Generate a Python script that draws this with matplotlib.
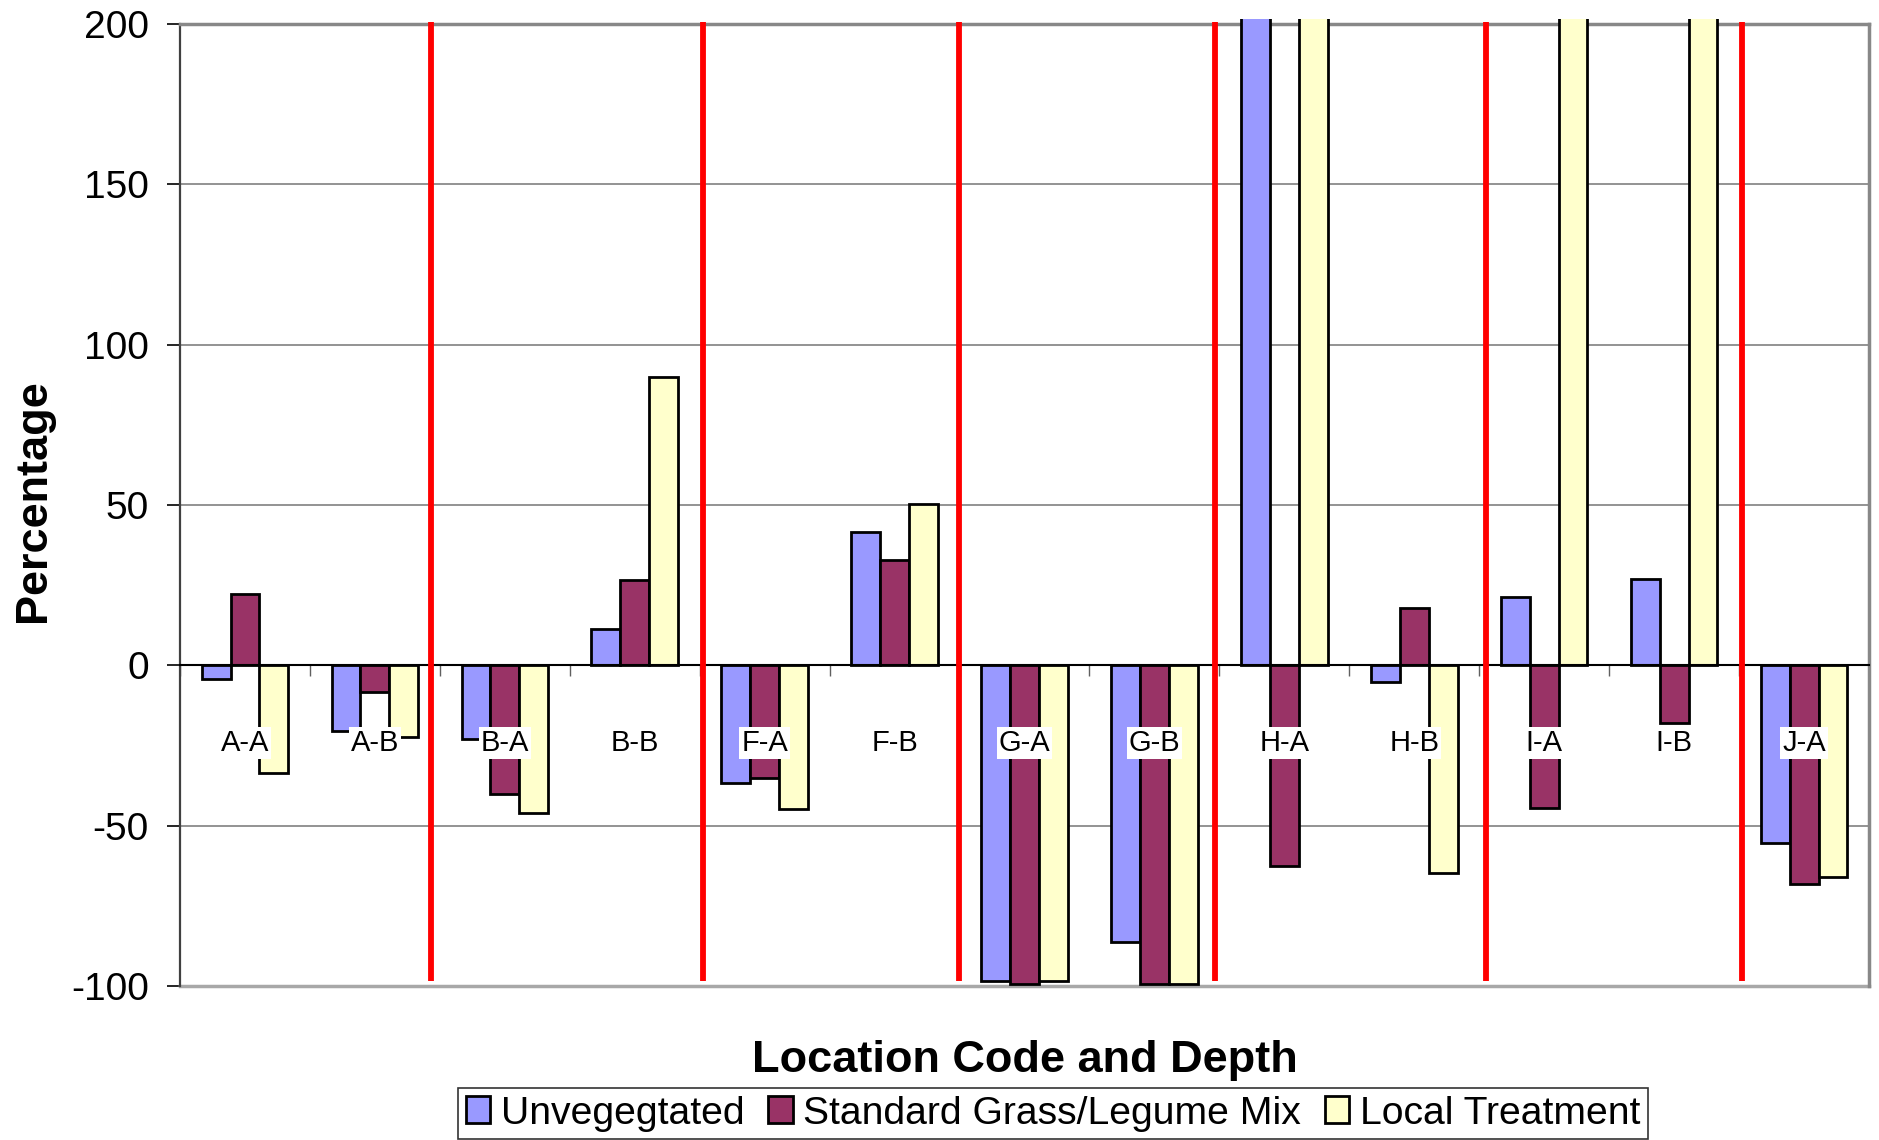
import numpy as np
import matplotlib
matplotlib.use('Agg')
import matplotlib.pyplot as plt
from matplotlib.patches import Rectangle

# ---------------- data ----------------
categories = ['A-A', 'A-B', 'B-A', 'B-B', 'F-A', 'F-B', 'G-A', 'G-B',
              'H-A', 'H-B', 'I-A', 'I-B', 'J-A']
# values of 250 are off the top of the scale (>200) and are clipped in the chart
unvegetated = [-4.3, -20.4, -22.9, 11.3, -36.8, 41.5, -98.6, -86.3,
               250, -5.3, 21.2, 26.8, -55.3]
standard_mix = [22.2, -8.4, -40.0, 26.5, -35.0, 32.7, -99.3, -99.3,
                -62.7, 17.8, -44.6, -18.1, -68.3]
local_treatment = [-33.7, -22.3, -46.0, 90.0, -44.7, 50.4, -98.4, -99.3,
                   250, -64.9, 250, 250, -65.9]
series_names = ['Unvegegtated', 'Standard Grass/Legume Mix', 'Local Treatment']
series_colors = ['#9999FF', '#993366', '#FFFFCC']
divider_positions = [1.432, 3.525, 5.497, 7.468, 9.555, 11.525]
y_ticks = [-100, -50, 0, 50, 100, 150, 200]

plt.rcParams['font.family'] = ['Liberation Sans', 'DejaVu Sans']

fig = plt.figure(figsize=(18.79, 11.40), dpi=100)
fig.patch.set_facecolor('white')
ax = fig.add_axes([0.0958, 0.1351, 0.8989, 0.8439])

x = np.arange(len(categories))
w = 0.222
clip = Rectangle((-0.5, -101), 13, 302.5, transform=ax.transData)

handles = []
for j, (vals, name, col) in enumerate(zip([unvegetated, standard_mix, local_treatment],
                                          series_names, series_colors)):
    bars = ax.bar(x + (j - 1) * w, vals, w, color=col, edgecolor='black',
                  linewidth=2.0, label=name, zorder=3)
    for b in bars:
        b.set_clip_path(clip)
    handles.append(bars)

ax.set_xlim(-0.5, len(categories) - 0.5)
ax.set_ylim(-100, 200)
ax.set_yticks(y_ticks)
ax.set_yticklabels([str(t) for t in y_ticks])
ax.yaxis.grid(True, color='#808080', linewidth=1.2)
ax.set_axisbelow(True)

ax.set_xticks(np.arange(-0.5, len(categories), 1))
ax.set_xticklabels([])
ax.tick_params(axis='x', direction='out', length=8, width=1.0, color='#606060')
ax.tick_params(axis='y', direction='out', length=9.5, width=1.2, color='black',
               labelsize=28, pad=13)

ax.spines['bottom'].set_position(('data', 0))
ax.spines['bottom'].set_color('black')
ax.spines['bottom'].set_linewidth(1.5)
ax.spines['bottom'].set_zorder(4)
ax.spines['left'].set_color('#404040')
ax.spines['left'].set_linewidth(1.6)
for s in ['top', 'right']:
    ax.spines[s].set_color('#888888')
    ax.spines[s].set_linewidth(2.5)
ax.axhline(-100, color='#a8a8a8', linewidth=2.5, clip_on=False, zorder=2)

for i, c in enumerate(categories):
    ax.text(i, -24.3, c, ha='center', va='center', fontsize=21, zorder=6,
            bbox=dict(facecolor='white', edgecolor='none', pad=1.5))

ax.vlines(divider_positions, -98.5, 200.6, colors='#FF0000', linewidth=4.2,
          clip_on=False, zorder=5)

fig.text(13 / 1879, 0.561, 'Percentage', rotation=90, ha='left', va='center',
         fontsize=32.5, fontweight='bold')
fig.text(0.5455, 0.0695, 'Location Code and Depth', ha='center', va='center',
         fontsize=32.5, fontweight='bold')

leg = fig.legend(handles, series_names, loc='center', bbox_to_anchor=(0.5604, 0.0232),
                 ncol=3, fontsize=28.2, frameon=True, fancybox=False, edgecolor='black',
                 handlelength=0.62, handleheight=0.67, handletextpad=0.26,
                 columnspacing=0.62, borderpad=0.2, borderaxespad=0)
leg.get_frame().set_linewidth(1.2)

fig.savefig('out.png', dpi=100)
